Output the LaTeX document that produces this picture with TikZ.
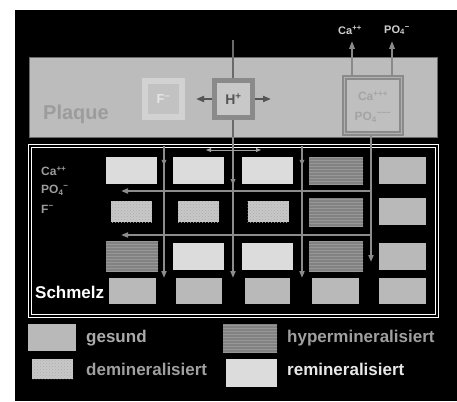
\documentclass[tikz,border=0pt]{standalone}
\usepackage{fontspec}
\setmainfont{Liberation Sans}
\usetikzlibrary{arrows.meta,patterns,decorations.markings}
\definecolor{plaquecol}{HTML}{BCBCBC}
\definecolor{gesundcol}{HTML}{B9B9B9}
\definecolor{remincol}{HTML}{DCDCDC}
\definecolor{demincol}{HTML}{C8C8C8}
\definecolor{demindot}{HTML}{ACACAC}
\definecolor{hypercol}{HTML}{828282}
\definecolor{hyperline}{HTML}{979797}
\definecolor{flowcol}{HTML}{8C8C8C}
\definecolor{darkflow}{HTML}{6A6A6A}
\definecolor{labgray}{HTML}{9C9C9C}
\definecolor{fouter}{HTML}{D2D2D2}
\definecolor{finner}{HTML}{C2C2C2}
\definecolor{ftext}{HTML}{E6E6E6}
\definecolor{hfill}{HTML}{C8C8C8}
\definecolor{hborder}{HTML}{8A8A8A}
\definecolor{htext}{HTML}{555555}
\definecolor{cafill}{HTML}{BFBFBF}
\definecolor{cadouble}{HTML}{B0B0B0}
\definecolor{catext}{HTML}{A4A4A4}
\definecolor{toptext}{HTML}{CFCFCF}
\definecolor{darrow}{HTML}{A0A0A0}
\definecolor{leggesund}{HTML}{ABABAB}
\definecolor{legother}{HTML}{A0A0A0}
\definecolor{legremin}{HTML}{E8E8E8}
\begin{document}
\begin{tikzpicture}[x=1pt,y=-1pt,
  cellbox/.style={rectangle,inner sep=0pt,draw=none},
  gesund/.style={cellbox,fill=gesundcol},
  remin/.style={cellbox,fill=remincol},
  demin/.style={cellbox,fill=demincol,postaction={pattern=crosshatch dots,pattern color=demindot}},
  hyper/.style={cellbox,fill=hypercol,postaction={pattern=horizontal lines,pattern color=hyperline}},
  flow/.style={draw=flowcol,line width=1.8pt},
  flowtip/.style={flow,-{Triangle[length=7pt,width=5pt]}},
  midtip/.style={postaction={decorate},decoration={markings,mark=at position #1 with {\arrow{Triangle[length=6pt,width=4.5pt]}}}},
  lab/.style={font=\bfseries\fontsize{12}{12}\selectfont,text=labgray,inner sep=0pt},
  legtext/.style={font=\bfseries\fontsize{17}{17}\selectfont,inner sep=0pt,anchor=west}
]
\useasboundingbox (0,0) rectangle (457,401);
\fill[white] (0,0) rectangle (457,401);
\fill[black] (15,10) rectangle (457,401);

% Plaque
\node[rectangle,fill=plaquecol,draw=darkflow,line width=0.8pt,minimum width=408pt,minimum height=80pt,inner sep=0pt] (plaque) at (233,97) {};
\node[font=\bfseries\fontsize{20}{20}\selectfont,text=labgray,anchor=west,inner sep=0pt] (plaquetext) at (43,114) {Plaque};

% Enamel frame
\node[rectangle,draw=white,double=black,double distance=1.6pt,line width=1.4pt,minimum width=407pt,minimum height=170pt,inner sep=0pt] (enamel) at (233.5,231) {};

% H+ vertical flow (behind the box)
\coordinate (htop) at (233,40);
\coordinate (hbot) at (233,278);
\coordinate (hplaq) at (233,137);
\draw[flowtip,midtip=0.61] (htop) -- (hbot);
\draw[draw=darkflow,line width=1.8pt] (htop) -- (hplaq);

% F- box
\node[rectangle,fill=fouter,minimum width=43pt,minimum height=42pt,inner sep=0pt] (fbox) at (163.5,99) {};
\node[rectangle,fill=finner,minimum width=31pt,minimum height=30pt,inner sep=0pt,font=\bfseries\fontsize{13}{13}\selectfont,text=ftext] (fin) at (163.5,99) {F\textsuperscript{−}};

% H+ box
\node[rectangle,fill=hfill,draw=hborder,line width=5pt,minimum width=38pt,minimum height=37pt,inner sep=0pt,font=\bfseries\fontsize{14}{14}\selectfont,text=htext] (hbox) at (233.5,99) {H\textsuperscript{+}};
\coordinate (hleft) at (196,99);
\coordinate (hright) at (271,99);
\draw[draw=htext,line width=1.8pt,-{Triangle[length=8pt,width=6pt]}] (hbox.west) -- (hleft);
\draw[draw=htext,line width=1.8pt,-{Triangle[length=8pt,width=6pt]}] (hbox.east) -- (hright);

% Ca/PO4 box in plaque
\node[rectangle,fill=cafill,draw=hborder,double=cadouble,double distance=1.5pt,line width=1.6pt,minimum width=57pt,minimum height=56pt,inner sep=0pt] (cabox) at (373,105.5) {};
\node[font=\bfseries\fontsize{12}{12}\selectfont,text=catext,inner sep=0pt] (cain) at (373,96) {Ca\textsuperscript{+++}};
\node[font=\bfseries\fontsize{12}{12}\selectfont,text=catext,inner sep=0pt] (poin) at (373,117) {PO\textsubscript{4}\textsuperscript{−−−}};
\node[font=\bfseries\fontsize{11}{11}\selectfont,text=toptext,inner sep=0pt] (topca) at (350,30) {Ca\textsuperscript{++}};
\node[font=\bfseries\fontsize{11}{11}\selectfont,text=toptext,inner sep=0pt] (toppo) at (397,30) {PO\textsubscript{4}\textsuperscript{−}};
\coordinate (caup1) at (352,41);
\coordinate (caup2) at (392,41);
\draw[draw=hborder,line width=1.8pt,-{Triangle[length=8pt,width=5.5pt]}] (cabox.north -| caup1) -- (caup1);
\draw[draw=hborder,line width=1.8pt,-{Triangle[length=8pt,width=5.5pt]}] (cabox.north -| caup2) -- (caup2);
\coordinate (cabot) at (371,262);
\draw[flowtip] (cabox.south -| cabot) -- (cabot);

% other vertical flows
\coordinate (v1t) at (164,146);
\coordinate (v1b) at (164,278);
\coordinate (v3t) at (302,146);
\coordinate (v3b) at (302,278);
\draw[flowtip,midtip=0.15] (v1t) -- (v1b);
\draw[flowtip,midtip=0.15] (v3t) -- (v3b);

% horizontal flows
\coordinate (h1r) at (371,191);
\coordinate (h1l) at (121,191);
\coordinate (h2r) at (371,235);
\coordinate (h2l) at (121,235);
\draw[flowtip] (h1r) -- (h1l);
\draw[flowtip] (h2r) -- (h2l);

% small double arrow at top
\coordinate (dal) at (206,150);
\coordinate (dar) at (261,150);
\draw[draw=darrow,line width=1pt,{Triangle[length=5pt,width=4pt]}-{Triangle[length=5pt,width=4pt]}] (dal) -- (dar);

% cells row 1
\node[remin,minimum width=51pt,minimum height=27pt] (c11) at (131.5,170.5) {};
\node[remin,minimum width=51pt,minimum height=27pt] (c12) at (198.5,170.5) {};
\node[remin,minimum width=51pt,minimum height=27pt] (c13) at (267.5,170.5) {};
\node[hyper,minimum width=54pt,minimum height=28pt] (c14) at (336,171) {};
\node[gesund,minimum width=47pt,minimum height=27pt] (c15) at (402.5,170.5) {};
% row 2
\node[demin,minimum width=41pt,minimum height=21pt] (c21) at (131.5,211.5) {};
\node[demin,minimum width=41pt,minimum height=21pt] (c22) at (198.5,211.5) {};
\node[demin,minimum width=41pt,minimum height=21pt] (c23) at (268,211.5) {};
\node[hyper,minimum width=54pt,minimum height=29pt] (c24) at (336,212.5) {};
\node[gesund,minimum width=47pt,minimum height=27pt] (c25) at (402.5,211.5) {};
% row 3
\node[hyper,minimum width=52pt,minimum height=31pt] (c31) at (132,256) {};
\node[remin,minimum width=51pt,minimum height=27pt] (c32) at (198.5,256.5) {};
\node[remin,minimum width=51pt,minimum height=27pt] (c33) at (267.5,256.5) {};
\node[hyper,minimum width=54pt,minimum height=30pt] (c34) at (336,256.5) {};
\node[gesund,minimum width=47pt,minimum height=27pt] (c35) at (402.5,256.5) {};
% row 4
\node[gesund,minimum width=47pt,minimum height=26pt] (c41) at (132.5,291) {};
\node[gesund,minimum width=46pt,minimum height=26pt] (c42) at (199,291) {};
\node[gesund,minimum width=45pt,minimum height=26pt] (c43) at (267.5,291) {};
\node[gesund,minimum width=47pt,minimum height=26pt] (c44) at (335.5,291) {};
\node[gesund,minimum width=47pt,minimum height=26pt] (c45) at (402.5,291) {};

% enamel labels
\node[lab,anchor=west] (lca) at (41,171) {Ca\textsuperscript{++}};
\node[lab,anchor=west] (lpo) at (41,190) {PO\textsubscript{4}\textsuperscript{−}};
\node[lab,anchor=west] (lf) at (41,209) {F\textsuperscript{−}};
\node[legtext,text=white] (schmelz) at (35,292) {Schmelz};

% legend
\node[gesund,minimum width=48pt,minimum height=27pt] (lg) at (52,337.5) {};
\node[legtext,text=leggesund] (lgt) at (86,338) {gesund};
\node[demin,minimum width=41pt,minimum height=20pt] (ld) at (52.5,369) {};
\node[legtext,text=legother] (ldt) at (86,369) {demineralisiert};
\node[hyper,minimum width=54pt,minimum height=29pt] (lh) at (250,338.5) {};
\node[legtext,text=legother] (lht) at (287,338) {hypermineralisiert};
\node[remin,minimum width=51pt,minimum height=28pt] (lr) at (251.5,373) {};
\node[legtext,text=legremin] (lrt) at (287,369) {remineralisiert};
\end{tikzpicture}
\end{document}
